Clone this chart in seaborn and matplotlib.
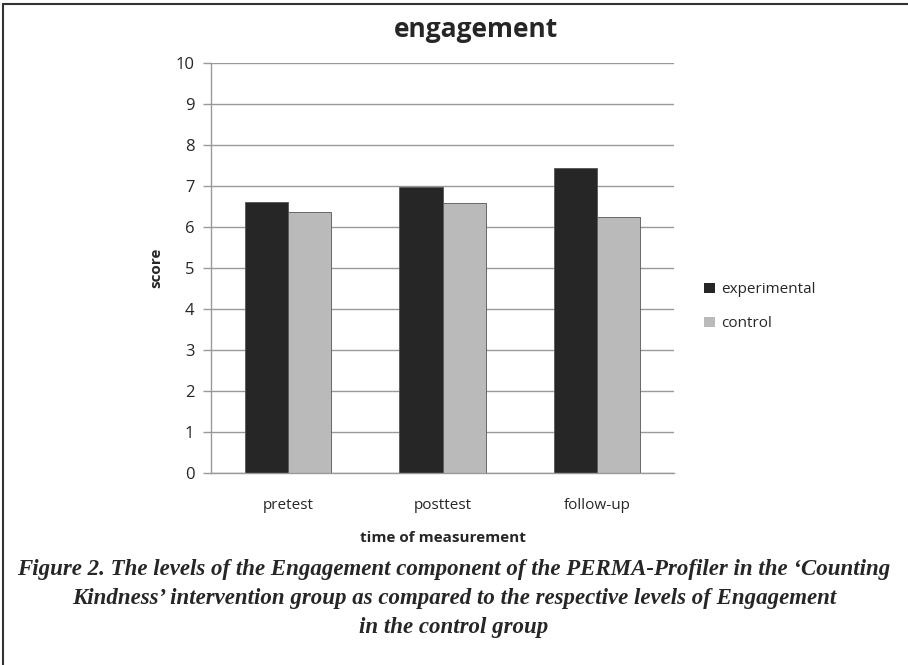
import matplotlib
matplotlib.use("Agg")
import matplotlib.pyplot as plt
import matplotlib.lines as mlines
import pandas as pd
import seaborn as sns

times = ["pretest", "posttest", "follow-up"]
experimental = [6.62, 6.98, 7.43]
control = [6.37, 6.58, 6.24]
groups = ["experimental", "control"]

df = pd.DataFrame({
    "time": times * 2,
    "score": experimental + control,
    "group": [groups[0]] * 3 + [groups[1]] * 3,
})

sns.set_style("white")
plt.rcParams["font.family"] = ["Open Sans", "DejaVu Sans"]

fig = plt.figure(figsize=(9.08, 6.65), dpi=100)
ax = fig.add_axes([0.2324, 0.2887, 0.5099, 0.6166])

sns.barplot(data=df, x="time", y="score", hue="group", order=times, hue_order=groups,
            palette=["#262626", "#bababa"], width=0.56, gap=0, ax=ax,
            edgecolor="#555555", linewidth=0.6, legend=True)

ax.set_ylim(0, 10)
ax.set_xlim(-0.5, 2.5)
ax.set_yticks(range(0, 11))
ax.yaxis.grid(True, color="#999999", linewidth=1.0)
ax.set_axisbelow(True)
for s in ["top", "right"]:
    ax.spines[s].set_visible(False)
for s in ["left", "bottom"]:
    ax.spines[s].set_color("#999999")
    ax.spines[s].set_linewidth(1.0)

# category ticks at the boundaries
ax.set_xticks([-0.5, 0.5, 1.5, 2.5], minor=True)
ax.tick_params(axis="x", which="major", length=0, labelsize=11, pad=18)
ax.tick_params(axis="x", which="minor", length=6, color="#999999", width=1)
ax.tick_params(axis="y", length=6, color="#999999", width=1, labelsize=12, pad=6, left=True)

ax.set_xlabel("time of measurement", fontsize=11, fontweight="bold", labelpad=13)
ax.set_ylabel("score", fontsize=11, fontweight="bold", labelpad=9)

leg = ax.legend(loc="center left", bbox_to_anchor=(1.035, 0.405), frameon=False,
                fontsize=11, handlelength=0.7, handleheight=0.7, handletextpad=0.4,
                labelspacing=1.25)
for h in leg.legend_handles:
    h.set_linewidth(0)

fig.text(0.524, 0.955, "engagement", ha="center", va="center", fontsize=19, fontweight="bold")

caption = ("Figure 2. The levels of the Engagement component of the PERMA-Profiler in the \u2018Counting\n"
           "Kindness\u2019 intervention group as compared to the respective levels of Engagement\n"
           "in the control group")
fig.text(0.5, 0.1, caption, ha="center", va="center", fontsize=16.5, fontweight="bold",
         fontstyle="italic", family=["Liberation Serif", "DejaVu Serif"], linespacing=1.5)

# page frame (top and left)
fig.add_artist(mlines.Line2D([0.003, 1.0], [0.994, 0.994], color="#333333", linewidth=1.5))
fig.add_artist(mlines.Line2D([0.0035, 0.0035], [0.0, 0.994], color="#333333", linewidth=1.5))

fig.savefig("out.png", dpi=100)
